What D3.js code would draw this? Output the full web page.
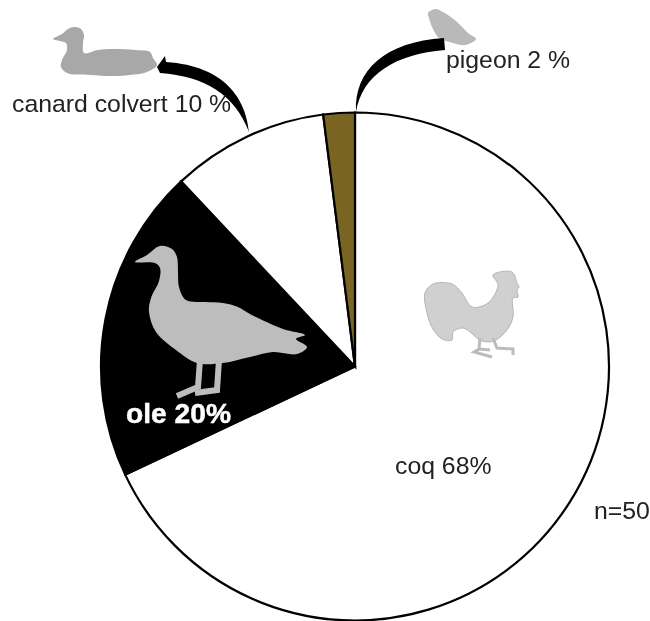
<!DOCTYPE html>
<html><head><meta charset="utf-8">
<script src="https://cdn.jsdelivr.net/npm/d3@7/dist/d3.min.js"></script>
<style>html,body{margin:0;padding:0;background:#fff}svg{display:block;filter:blur(0.4px)}text{font-family:"Liberation Sans",Arial,sans-serif}</style>
</head><body><svg id="c" width="650" height="621"></svg>
<script>
const categories = ["coq","ole","canard colvert","pigeon"];
const values = [68,20,10,2];
const colors = ["#ffffff","#000000","#ffffff","#7a6421"];
const labels = ["coq 68%","ole 20%","canard colvert 10 %","pigeon 2 %","n=50"];

const svg = d3.select("#c");
const cx=355, cy=366.5, r=254;
const pie = d3.pie().sort(null).value(d=>d);
const arc = d3.arc().innerRadius(0).outerRadius(r);
const g = svg.append("g").attr("transform",`translate(${cx},${cy})`);
g.selectAll("path").data(pie(values)).join("path")
 .attr("d",arc).attr("fill",(d,i)=>colors[i])
 .attr("stroke","#000").attr("stroke-width",2.2).attr("stroke-linejoin","miter");
const closed = d3.line().curve(d3.curveCatmullRomClosed.alpha(0.5));

const icons = {
 duck:[[53,39],[62,34],[68,29],[74,27],[81,29],[84,35],[83,43],[84,53],[98,50],[113,49],[135,50],[150,52],[153,58],[157,65],[147,72],[130,75],[113,76],[90,75],[67,73],[61,67],[62,60],[67,50],[66,43],[60,41]],
 pigeon:[[428,13],[435,9],[443,12],[456,21],[468,33],[476,39],[465,45],[453,43],[439,38],[432,27],[429,18]],
 goose:[[135,262],[147,255],[160,246],[172,249],[177,257],[178,272],[179,287],[186,300],[205,302],[223,303],[238,307],[250,314],[283,329],[305,335],[296,339],[307,347],[297,354],[273,352],[250,357],[223,363],[197,363],[176,350],[156,332],[149,312],[151,298],[159,281],[160,268],[155,263]],
 rooster:[[425,293],[433,284],[452,284],[462,293],[472,307],[488,303],[498,285],[493,275],[512,272],[517,283],[519,287],[517,290],[518,297],[513,298],[513,317],[507,330],[494,341],[482,341],[463,328],[453,332],[452,340],[442,339],[433,329],[427,313]]
};
const legs = {
 goose:["M200,360 L198,387 L177,396","M219,360 L217,390 L195,393"],
 rooster:["M480,338 L479,349 L474,352 L492,357","M493,338 L497,348 L513,349 L513,355 M479,349 L490,350"]
};
svg.append("path").attr("d",closed(icons.duck)).attr("fill","#a8a8a8");
svg.append("path").attr("d",closed(icons.pigeon)).attr("fill","#b9b9b9");
svg.append("path").attr("d",closed(icons.goose)).attr("fill","#bdbdbd");
svg.selectAll("path.gl").data(legs.goose).join("path").attr("class","gl").attr("d",d=>d)
 .attr("fill","none").attr("stroke","#bdbdbd").attr("stroke-width",6);
svg.append("path").attr("d",closed(icons.rooster)).attr("fill","#d0d0d0").attr("stroke","#b5b5b5").attr("stroke-width",1);
svg.selectAll("path.rl").data(legs.rooster).join("path").attr("class","rl").attr("d",d=>d)
 .attr("fill","none").attr("stroke","#bcbcbc").attr("stroke-width",3);

const leaders = [
 "M249,132 C246,100 226,66 166,62 L165,56 L157,67 L160,73 C205,76 235,95 249,132 Z",
 "M356,112 C354,70 385,42 444,38 L445,50 C395,54 362,75 356,112 Z"
];
svg.selectAll("path.leader").data(leaders).join("path").attr("class","leader").attr("d",d=>d).attr("fill","#000");

const txt = [
 {t:labels[0],x:395,y:474},
 {t:labels[4],x:594,y:519},
 {t:labels[2],x:12,y:112},
 {t:labels[3],x:446,y:68}
];
svg.selectAll("text.l").data(txt).join("text").attr("class","l")
 .attr("x",d=>d.x).attr("y",d=>d.y).attr("font-size",24.8).attr("fill","#222").text(d=>d.t);
svg.append("text").attr("x",126).attr("y",423).attr("font-size",28.2).attr("font-weight","bold")
 .attr("fill","#fff").attr("stroke","#fff").attr("stroke-width",0.5).text(labels[1]);
</script></body></html>
